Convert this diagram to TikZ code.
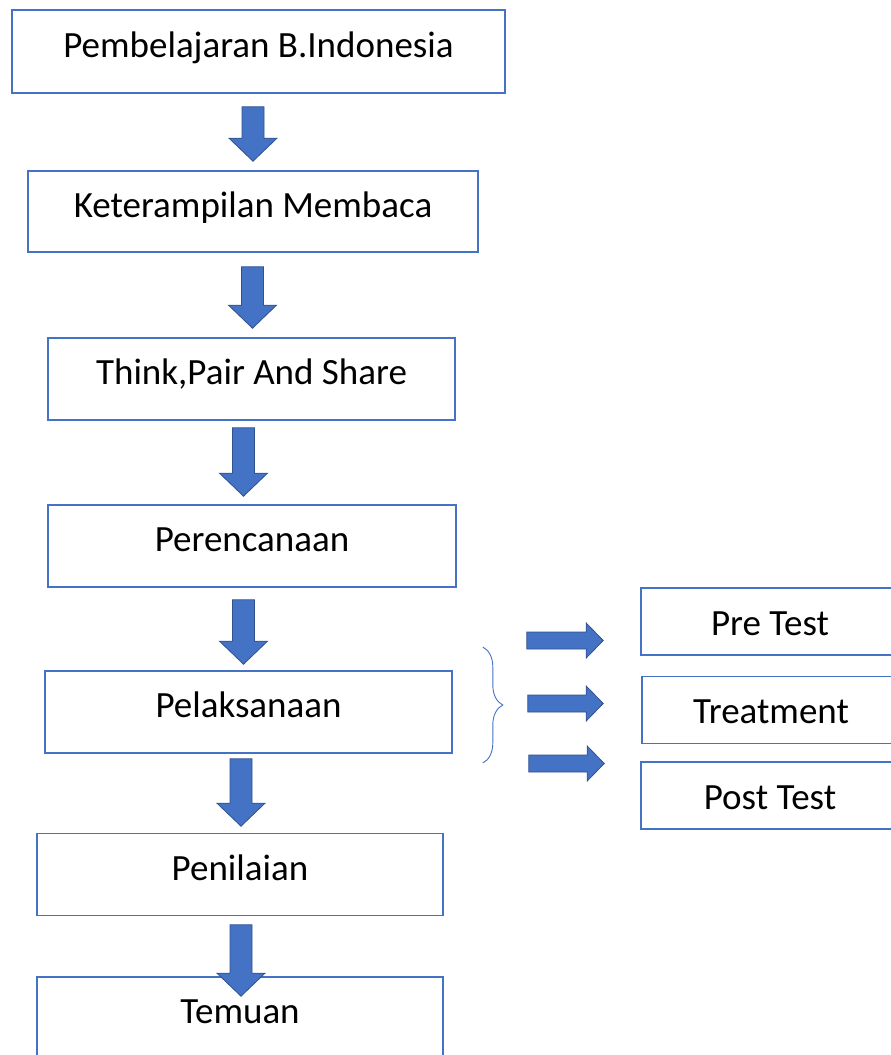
\documentclass[tikz,border=0pt]{standalone}
\usepackage{fontspec}
\setmainfont{Carlito}
\usetikzlibrary{positioning,calc,decorations.pathreplacing}
\definecolor{officeblue}{RGB}{68,114,196}
\definecolor{arrowedge}{RGB}{47,82,143}
\tikzset{%
  % Specifications for style of nodes:
            base/.style = {rectangle, draw=officeblue, line width=1.6pt, fill=white,
                           text centered, inner sep=0pt,
                           font=\fontsize{37}{44}\selectfont},
        stagebox/.style = {base, minimum height=82pt,
                           text height=26pt, text depth=14.4pt},
         testbox/.style = {base, minimum width=258pt, minimum height=67pt,
                           text height=27.6pt, text depth=0pt},
      blockarrow/.style = {fill=officeblue, draw=arrowedge, line width=0.8pt},
         bracket/.style = {draw=officeblue, line width=0.9pt, decorate,
                           decoration={brace, amplitude=20pt}},
}
% fat arrows: start point, point giving the tip
\newcommand{\downblock}[2]{%
  \filldraw[blockarrow] let \p1=#1, \p2=#2 in
    (\x1-11pt,\y1) -- (\x1+11pt,\y1) -- (\x1+11pt,\y2+23pt) -- (\x1+24pt,\y2+23pt)
    -- (\x1,\y2) -- (\x1-24pt,\y2+23pt) -- (\x1-11pt,\y2+23pt) -- cycle;}
\newcommand{\rightblock}[2]{%
  \filldraw[blockarrow] let \p1=#1, \p2=#2 in
    (\x1,\y1+8.5pt) -- (\x2-17pt,\y1+8.5pt) -- (\x2-17pt,\y1+17.5pt) -- (\x2,\y1)
    -- (\x2-17pt,\y1-17.5pt) -- (\x2-17pt,\y1-8.5pt) -- (\x1,\y1-8.5pt) -- cycle;}

\begin{document}
\begin{tikzpicture}[x=1pt, y=-1pt, node distance=166pt]
  \useasboundingbox (0,0) rectangle (891,1055);
  % Specification of nodes (position, etc.)
  \node (pem) [stagebox, minimum width=493pt, minimum height=83pt] at (258.5,51.5) {Pembelajaran B.Indonesia};
  \node (ket) [stagebox, minimum width=450pt, minimum height=81pt, below of=pem, xshift=-5.5pt, yshift=6pt] {Keterampilan Membaca};
  \node (tps) [stagebox, minimum width=407pt, below of=ket, xshift=-1.5pt, yshift=-1.5pt] {Think,Pair And Share};
  \node (per) [stagebox, minimum width=408pt, below of=tps, xshift=0.5pt, yshift=-1pt] {Perencanaan};
  \node (pel) [stagebox, minimum width=407pt, below of=per, xshift=-3.5pt] {Pelaksanaan};
  \node (pen) [stagebox, minimum width=406pt, below of=pel, xshift=-8.5pt, yshift=3.5pt] {Penilaian};
  \node (tem) [stagebox, minimum width=406pt, below of=pen, yshift=22.5pt] {Temuan};

  \node (pre) [testbox] at (770,621.5) {Pre Test};
  \node (tre) [testbox, below of=pre, node distance=88.5pt, xshift=1pt] {Treatment};
  \node (pos) [testbox, below of=tre, node distance=85.5pt, xshift=-1pt] {Post Test};

  % Specification of arrows between nodes specified above
  \downblock{([shift={(-5.5,13)}]pem.south)}{([shift={(0,-9)}]ket.north)}
  \downblock{([shift={(-0.5,14)}]ket.south)}{([shift={(0,-9)}]tps.north)}
  \downblock{([shift={(-8,7)}]tps.south)}{([shift={(0,-8)}]per.north)}
  \downblock{([shift={(-8.5,12)}]per.south)}{([shift={(0,-6)}]pel.north)}
  \downblock{([shift={(-7.5,5)}]pel.south)}{([shift={(0,-6.5)}]pen.north)}
  \downblock{([shift={(1,8.5)}]pen.south)}{([shift={(0,20)}]tem.north)}

  \draw[bracket] ([shift={(30,-65)}]pel.east) -- ([shift={(30,51)}]pel.east);
  \rightblock{([shift={(74,-71.5)}]pel.east)}{([shift={(-37,0)}]pre.west)}
  \rightblock{([shift={(75,-8.5)}]pel.east)}{([shift={(-38,0)}]tre.west)}
  \rightblock{([shift={(76,51.5)}]pel.east)}{([shift={(-36,0)}]pos.west)}
\end{tikzpicture}
\end{document}
